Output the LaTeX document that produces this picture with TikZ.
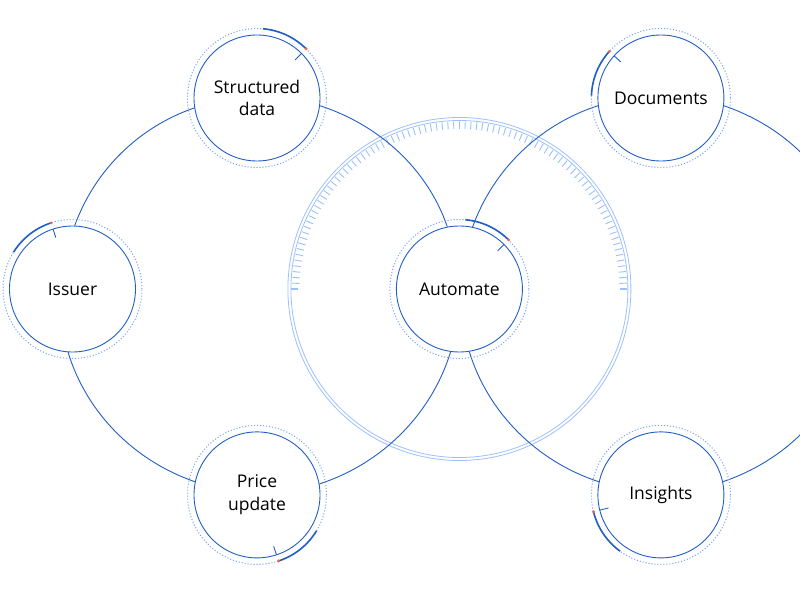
\documentclass[tikz,border=0pt]{standalone}
\usepackage{fontspec}
\setmainfont{Open Sans}
\usetikzlibrary{positioning}

\definecolor{hubblue}{RGB}{34,94,196}
\definecolor{dotblue}{RGB}{120,166,240}
\definecolor{dialblue}{RGB}{155,192,250}
\definecolor{dotred}{RGB}{240,100,70}

\begin{document}
\begin{tikzpicture}[x=1pt, y=1pt,
    hub/.style={circle, draw=hubblue, line width=0.9pt, fill=white, minimum size=126pt, inner sep=0pt, align=center, font=\fontsize{17.5}{22.5}\selectfont, text=black},
    link/.style={draw=hubblue, line width=0.9pt, looseness=0.9},
    dotring/.style={draw=dotblue, line width=1pt, dash pattern=on 1.1pt off 1.9pt},
    progress/.style={draw=hubblue, line width=1.6pt},
    hubtick/.style={draw=hubblue, line width=0.9pt},
    dialline/.style={draw=dialblue, line width=0.8pt},
    dialtick/.style={draw=dialblue, line width=0.9pt}]

    \useasboundingbox (0,0) rectangle (800,590);
    \clip (0,0) rectangle (800,590);

    % levy kruh
    \node[hub] (iss) at (72.5,301) {Issuer};
    \node[hub, right=260pt of iss] (aut) {Automate};
    \node[hub] (str) at (257,492) {Structured\\data};
    \node[hub, below=270pt of str] (prc) {Price\\update};

    % pravy kruh
    \node[hub, right=277pt of str] (doc) {Documents};
    \node[hub, below=270pt of doc] (ins) {Insights};

    % stupnice kolem Automate
    \draw[dialline] (aut) circle[radius=171.5pt];
    \draw[dialline] (aut) circle[radius=168.5pt];
    \foreach \t in {2,4,...,178}
        \draw[dialtick] ([shift={(\t:160pt)}]aut.center) -- ([shift={(\t:167.5pt)}]aut.center);
    \draw[dialtick, line width=1.4pt] ([shift={(0:161pt)}]aut.center) -- ([shift={(0:168pt)}]aut.center);
    \draw[dialtick, line width=1.4pt] ([shift={(180:161pt)}]aut.center) -- ([shift={(180:168pt)}]aut.center);

    % spojnice leveho kruhu
    \draw[link] (iss.88) to[out=70, in=199] (str.189);
    \draw[link] (str.-7) to[out=-18, in=109] (aut.101);
    \draw[link] (aut.-98) to[out=-107, in=18] (prc.10);
    \draw[link] (prc.168) to[out=161, in=-73] (iss.-94);

    % spojnice praveho kruhu
    \draw[link] (aut.78) to[out=70, in=198] (doc.187);
    \draw[link] (doc.-7) to[out=-19, in=19, looseness=1.3] (ins.12);
    \draw[link] (ins.168) to[out=162, in=-73] (aut.-81);

    % tečkované kroužky a oblouky průběhu
    \foreach \n/\a/\b in {str/85/45, iss/148/108, aut/85/45, prc/-31/-72, doc/178/138, ins/-126/-166} {
        \draw[dotring] (\n) circle[radius=69.5pt];
        \draw[progress] ([shift={(\a:69.5pt)}]\n.center) arc[start angle=\a, end angle=\b, radius=69.5pt];
        \draw[hubtick] ([shift={(\b:54pt)}]\n.center) -- ([shift={(\b:63pt)}]\n.center);
        \fill[dotred] ([shift={(\b:69.5pt)}]\n.center) circle[radius=1.6pt];
    }

\end{tikzpicture}
\end{document}
